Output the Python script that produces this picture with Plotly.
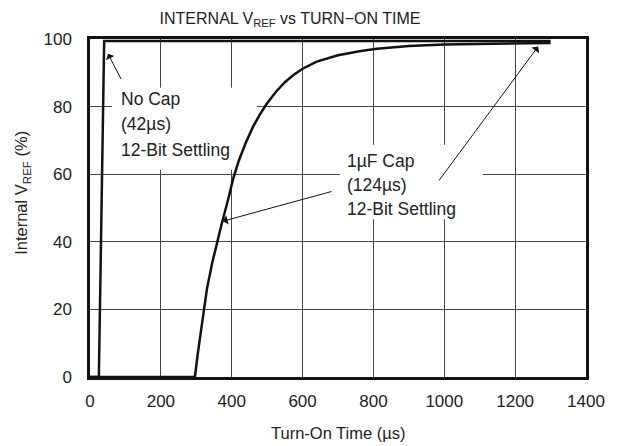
import plotly.graph_objects as go

# ---- data ----
nocap_x = [0, 25, 40, 1300]
nocap_y = [0, 0, 99.4, 99.4]

cap_x = [0, 296, 305, 319, 330, 345, 358, 372, 390, 404, 420, 440, 460, 480, 500, 525, 550, 575,
         600, 640, 700, 760, 810, 900, 1000, 1150, 1300]
cap_y = [0, 0, 7.5, 18.8, 26, 33.8, 39.6, 45.4, 52.6, 58.6, 64, 69.4, 74, 77.8, 81, 84.4, 87.2, 89.4,
         91.2, 93.3, 95.2, 96.4, 97.1, 97.9, 98.4, 98.7, 98.8]

x_ticks = [0, 200, 400, 600, 800, 1000, 1200, 1400]
y_ticks = [0, 20, 40, 60, 80, 100]

nocap_label = ["No Cap", "(42µs)", "12-Bit Settling"]
cap_label = ["1µF Cap", "(124µs)", "12-Bit Settling"]

FONT = "Liberation Sans, Arial, sans-serif"

fig = go.Figure()
fig.add_trace(go.Scatter(x=nocap_x, y=nocap_y, mode="lines",
                         line=dict(color="#111111", width=2.5), showlegend=False))
fig.add_trace(go.Scatter(x=cap_x, y=cap_y, mode="lines",
                         line=dict(color="#111111", width=2.5), showlegend=False))

# white boxes behind labels (between grid and traces)
fig.add_shape(type="rect", xref="x", yref="y", x0=62, x1=471, y0=61.3, y1=85.6,
              fillcolor="white", line_width=0, layer="between")
fig.add_shape(type="rect", xref="x", yref="y", x0=706, x1=1109, y0=46.7, y1=68.7,
              fillcolor="white", line_width=0, layer="between")

annotations = []
for txt, yy in zip(nocap_label, [82.3, 74.9, 67.2]):
    annotations.append(dict(x=82, y=yy, xref="x", yref="y", text=txt, showarrow=False,
                            xanchor="left", yanchor="middle", font=dict(size=17.5, color="#222")))
for txt, yy in zip(cap_label, [63.9, 56.8, 49.7]):
    annotations.append(dict(x=720, y=yy, xref="x", yref="y", text=txt, showarrow=False,
                            xanchor="left", yanchor="middle", font=dict(size=17.5, color="#222")))

# arrows (head at x,y ; tail at ax,ay)
arrows = [((50.8, 95.6), (90, 87.7)),
          ((375, 46.1), (686, 55.0)),
          ((1265, 97.8), (982, 57.7))]
for (hx, hy), (tx, ty) in arrows:
    annotations.append(dict(x=hx, y=hy, ax=tx, ay=ty, xref="x", yref="y", axref="x", ayref="y",
                            text="", showarrow=True, arrowhead=1, arrowsize=1.6, arrowwidth=1,
                            arrowcolor="#111", standoff=0))

# axis titles
annotations.append(dict(x=-0.137, y=0.545, xref="paper", yref="paper", textangle=-90,
                        text="Internal V<sub>REF</sub> (%)", showarrow=False,
                        xanchor="center", yanchor="middle", font=dict(size=16.5, color="#222")))
annotations.append(dict(x=0.5, y=-0.166, xref="paper", yref="paper",
                        text="Turn-On Time (µs)", showarrow=False,
                        xanchor="center", yanchor="middle", font=dict(size=16.5, color="#222")))

fig.update_layout(
    width=619, height=446,
    margin=dict(l=90, r=33, t=39, b=69),
    paper_bgcolor="white", plot_bgcolor="white",
    font=dict(family=FONT, size=16, color="#222"),
    title=dict(text="INTERNAL V<sub>REF</sub> vs TURN\u2212ON TIME", x=290/619, xref="container",
               xanchor="center", y=1-18/446, yref="container", yanchor="middle",
               font=dict(size=16, color="#222")),
    annotations=annotations,
    showlegend=False,
)
fig.update_xaxes(range=[0, 1400], tickvals=x_ticks, ticktext=[str(v) for v in x_ticks],
                 showgrid=True, gridcolor="#444", gridwidth=1,
                 showline=True, linecolor="#111", linewidth=2.5, mirror=True,
                 ticks="", ticklabelstandoff=7, zeroline=False, tickfont=dict(size=17))
fig.update_yaxes(range=[0, 100], tickvals=y_ticks, ticktext=[str(v) for v in y_ticks],
                 showgrid=True, gridcolor="#444", gridwidth=1,
                 showline=True, linecolor="#111", linewidth=2.5, mirror=True,
                 ticks="", ticklabelstandoff=12, zeroline=False, tickfont=dict(size=17))

fig.write_html("out.html", config={"displayModeBar": False},
               post_script="document.body.style.margin='0';document.body.style.overflow='hidden';")
